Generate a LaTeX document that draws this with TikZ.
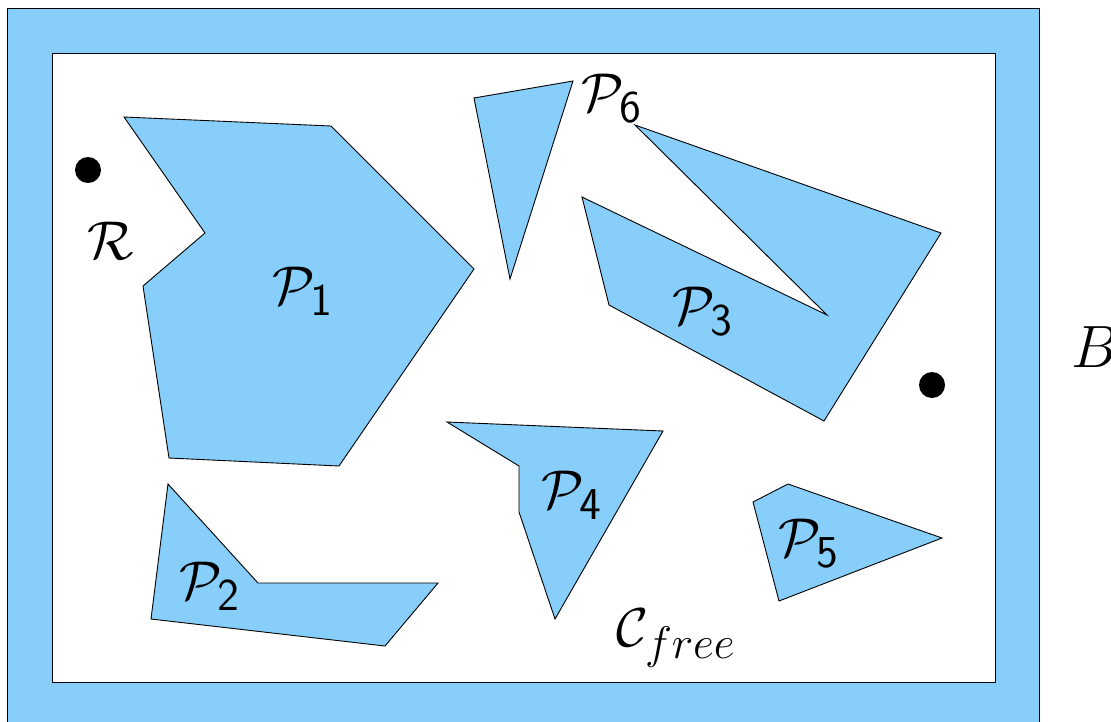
\documentclass[tikz,border=0pt]{standalone}
\usepackage{graphicx}
\definecolor{obst}{RGB}{135,206,250}
\newcommand{\biglbl}[1]{\scalebox{2.2}{\Huge #1}}
\tikzset{
  obstacle/.style={fill=obst,draw=black,line width=0.9pt,line join=miter},
  lbl/.style={inner sep=0pt,anchor=base west},
  dot/.style={circle,fill=black,inner sep=0pt,minimum size=26pt}
}
\begin{document}
\begin{tikzpicture}[x=1pt,y=-1pt]
\useasboundingbox (0,0) rectangle (1111,721);
% workspace border
\fill[obst,draw=black,line width=0.9pt] (7,8) rectangle (1039,760);
\fill[white,draw=black,line width=0.9pt] (52,53) rectangle (995,682);
% obstacles
\draw[obstacle] (124,117) -- (331,126) -- (474,269) -- (339,466) -- (169,458) -- (143,286) -- (205,233) -- cycle;
\draw[obstacle] (168,484) -- (258,583) -- (438,583) -- (385,646) -- (151,619) -- cycle;
\draw[obstacle] (635,125) -- (941,233) -- (824,421) -- (609,305) -- (582,197) -- (827,315) -- cycle;
\draw[obstacle] (447,422) -- (663,431) -- (555,619) -- (519,512) -- (519,466) -- cycle;
\draw[obstacle] (753,502) -- (788,484) -- (942,538) -- (779,601) -- cycle;
\draw[obstacle] (474,98) -- (573,81) -- (510,279) -- cycle;
% robot positions
\node[dot] (start) at (88,170) {};
\node[dot] (goal) at (932,385) {};
% labels
\node[lbl] (lR) at (87,259) {\biglbl{$\mathcal{R}$}};
\node[lbl] (l1) at (272,304) {\biglbl{$\mathcal{P}_{\mathsf{1}}$}};
\node[lbl] (l2) at (179,599) {\biglbl{$\mathcal{P}_{\mathsf{2}}$}};
\node[lbl] (l3) at (672,324) {\biglbl{$\mathcal{P}_{\mathsf{3}}$}};
\node[lbl] (l4) at (541,508) {\biglbl{$\mathcal{P}_{\mathsf{4}}$}};
\node[lbl] (l5) at (778,556) {\biglbl{$\mathcal{P}_{\mathsf{5}}$}};
\node[lbl] (l6) at (581,111) {\biglbl{$\mathcal{P}_{\mathsf{6}}$}};
\node[lbl] (lC) at (616,646) {\biglbl{$\mathcal{C}_{free}$}};
\node[lbl] (lB) at (1071,367) {\scalebox{2.4}{\Huge $B$}};
\end{tikzpicture}
\end{document}
